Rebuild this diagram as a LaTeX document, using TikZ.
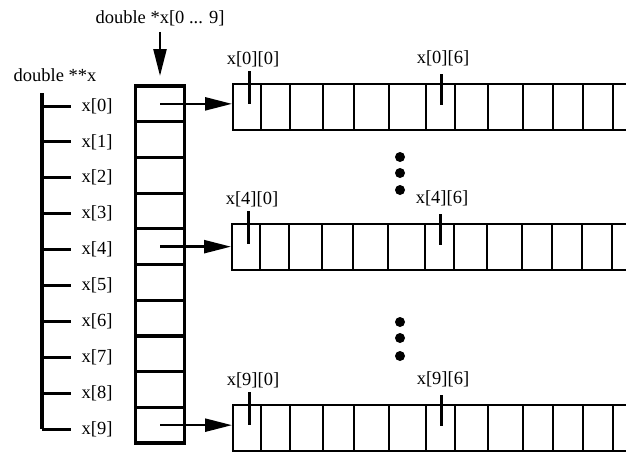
\documentclass[tikz,border=0pt]{standalone}
\usepackage{fontspec}
\setmainfont{Liberation Serif}
\usetikzlibrary{arrows.meta, positioning, calc}

\begin{document}
\begin{tikzpicture}[x=1pt, y=-1pt,
    ptr/.style={rectangle, draw, line width=3.2pt, minimum width=49pt, minimum height=35.7pt, inner sep=0pt, outer sep=0pt},
    row/.style={rectangle, draw, line width=2pt, minimum width=420pt, minimum height=46pt, inner sep=0pt, anchor=north west},
    cell/.style={draw, line width=2pt},
    lbl/.style={font=\fontsize{18.5}{20}\selectfont, inner sep=1pt},
    marker/.style={draw, line width=3pt},
    arrow/.style={draw, -{Triangle[length=27pt, width=13pt]}, line width=2.4pt}
]
\clip (0,0) rectangle (626,451);

% Nodes
\node[lbl] (title) at (160,18) {double *x[0 ... 9]};
\node[lbl] (dx) at (55,75) {double **x};
\coordinate (top) at (42,93);
\foreach \i in {0,...,9} {
    \node[lbl] (xl\i) at (97,{106+35.9*\i}) {x[\i]};
    \node[ptr] (ptr\i) at (160,{103.85+35.7*\i}) {};
}
\node[row] (row0) at (232,83) {};
\node[row] (row4) at (231,223) {};
\node[row] (row9) at (232,404) {};

% Cells and labels
\foreach \r in {0,4,9} {
    \foreach \dx in {29,58,91,122,157,194,223,256,291,321,351,381}
        \draw[cell] ($(row\r.north west)+(\dx,0)$) -- ($(row\r.south west)+(\dx,0)$);
    \node[lbl] (c\r0) at ($(row\r.north west)+(21,-24)$) {x[\r][0]};
    \node[lbl] (c\r6) at ($(row\r.north west)+(211,-25)$) {x[\r][6]};
    \draw[marker] ($(row\r.north west)+(17,-12)$) -- ++(0,33);
    \draw[marker] ($(row\r.north west)+(209,-9)$) -- ++(0,31);
}
\foreach \y in {157,173,190,322,338,356}
    \fill (400,\y) circle (5pt);

% Connections
\draw[line width=3.2pt] (top) -- (top |- xl9);
\foreach \i in {0,...,9}
    \draw[line width=3pt, shorten >=9pt] (xl\i.west -| top) -- (xl\i.west);
\draw[arrow, shorten <=5pt, shorten >=10pt] (title) -- (ptr0);
\foreach \r in {0,4,9}
    \draw[arrow] (ptr\r.center) -- (ptr\r.center -| row\r.west);

\end{tikzpicture}
\end{document}
